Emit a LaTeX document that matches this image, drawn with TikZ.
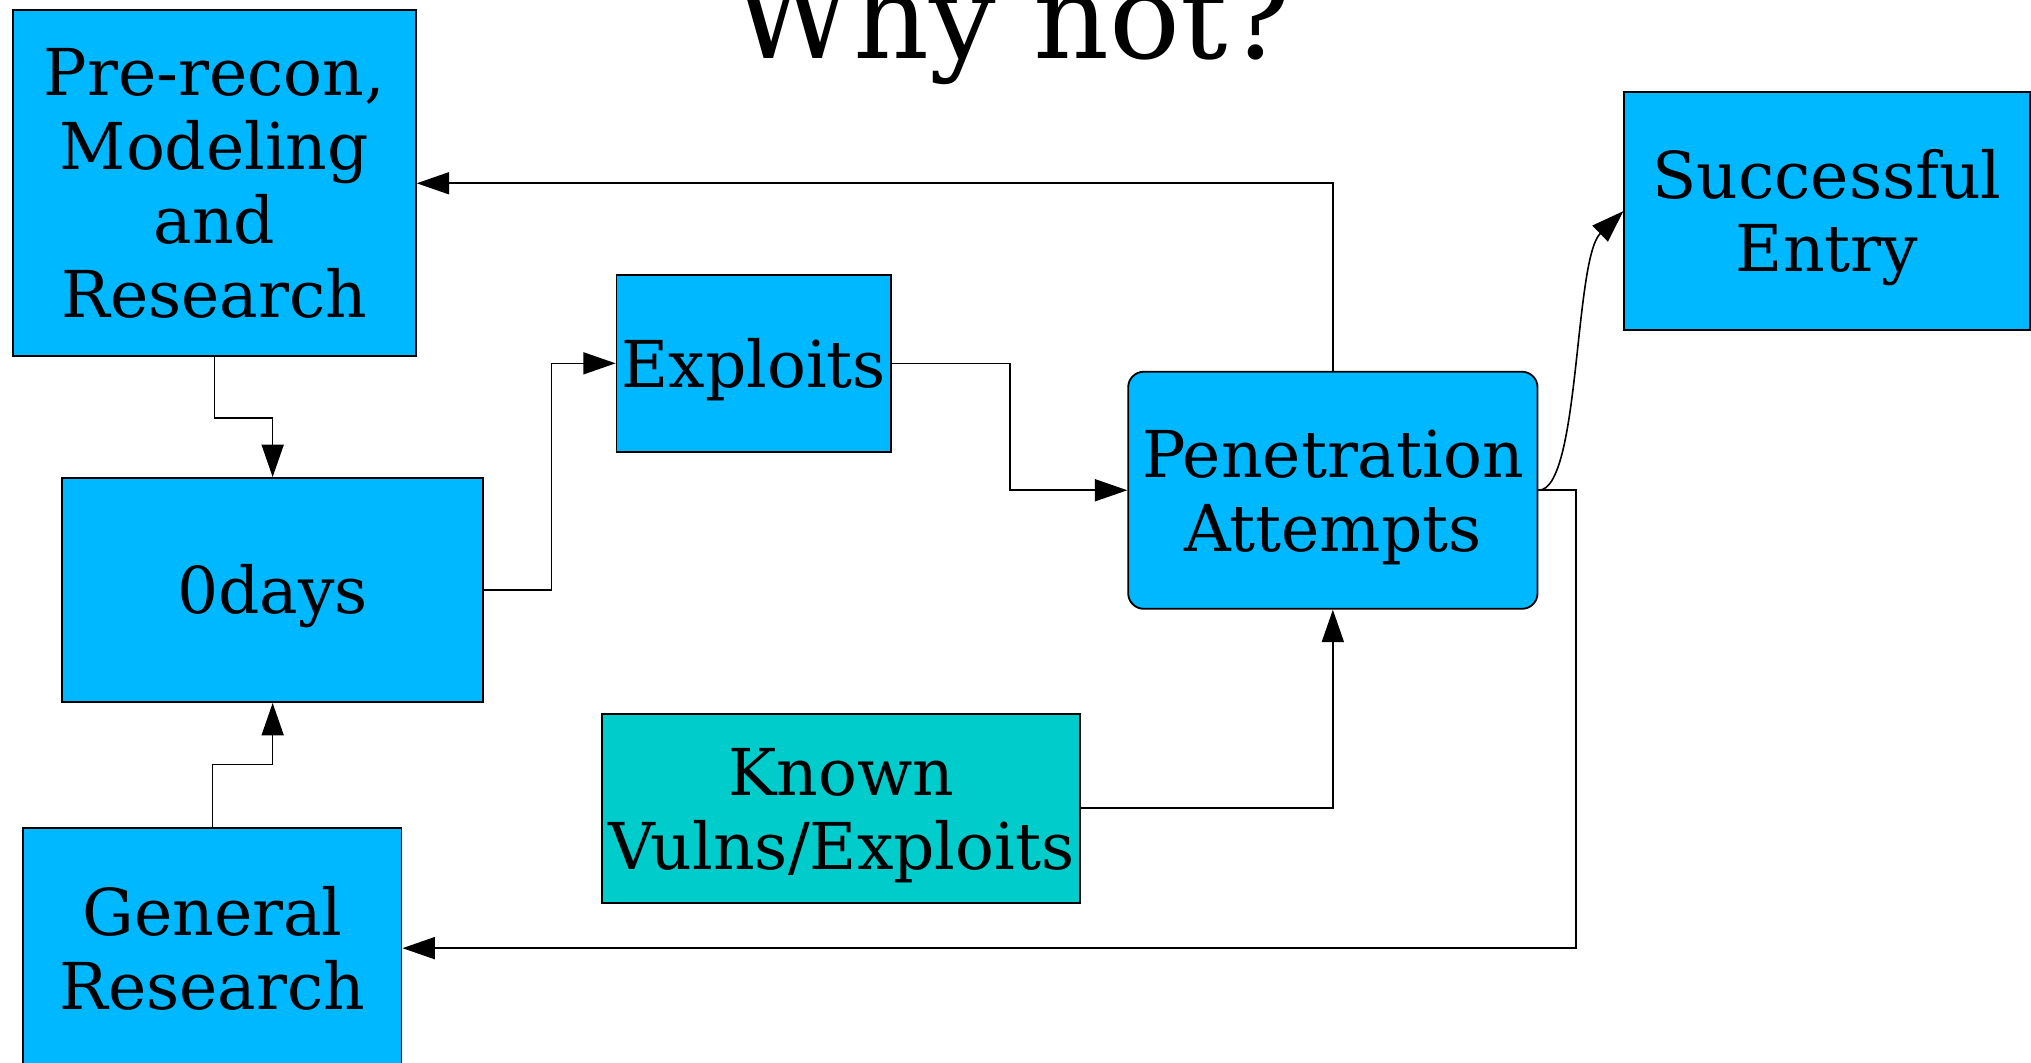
\documentclass[tikz,border=0pt]{standalone}
\usepackage{fontspec}
\setmainfont{DejaVu Serif}
\usepackage{tikz}
\usetikzlibrary{arrows.meta, positioning, calc}
\definecolor{skyblue}{HTML}{00B8FF}
\definecolor{tealbox}{HTML}{00CCCC}

\begin{document}
\begin{tikzpicture}[
  box/.style={draw=black, line width=0.4pt, fill=skyblue, align=center, inner sep=0pt,
    font=\fontsize{14.2}{16.2}\selectfont, execute at begin node={\rule{0pt}{13.4pt}}},
  lowtext/.style={execute at begin node={\rule{0pt}{29.8pt}}},
  link/.style={line width=0.35pt, -{Triangle[length=2.5mm, width=1.7mm]}}
]
\useasboundingbox (0,0) rectangle (15.68,-8.206);

\node [anchor=base, font=\fontsize{25.9}{30}\selectfont] (title) at (7.81,-0.45) {Why not?};

\node [box, minimum width=3.11cm, minimum height=2.67cm] (prerecon) at (1.655,-1.415) {Pre-recon,\\Modeling\\and\\Research};
\node [box, minimum width=2.12cm, minimum height=1.37cm] (exploits) at (5.82,-2.805) {Exploits};
\node [box, minimum width=3.25cm, minimum height=1.73cm] (zerodays) at (2.105,-4.555) {0days};
\node [box, lowtext, rounded corners=0.12cm, minimum width=3.16cm, minimum height=1.83cm] (pen) at (10.29,-3.785) {Penetration\\Attempts};
\node [box, lowtext, minimum width=3.13cm, minimum height=1.84cm] (success) at (14.105,-1.63) {Successful\\Entry};
\node [box, lowtext, fill=tealbox, minimum width=3.69cm, minimum height=1.46cm] (known) at (6.495,-6.24) {Known\\Vulns/Exploits};
\node [box, minimum width=2.92cm, minimum height=1.86cm] (general) at (1.64,-7.32) {General\\Research};

\draw [link] (pen.north) |- (prerecon.east);
\draw [link] (prerecon.south) -- ++(0,-0.47) -| (zerodays.north);
\draw [link] (zerodays.east) -- ++(0.52,0) |- (exploits.west);
\draw [link] (exploits.east) -- ++(0.91,0) |- (pen.west);
\draw [link] (pen.east) .. controls (12.2,-3.785) and (12.15,-2.0) .. (success.west);
\draw [link] (pen.east) -- ++(0.29,0) |- (general.east);
\draw [link] (known.east) -| (pen.south);
\draw [link] (general.north) -- ++(0,0.48) -| (zerodays.south);
\end{tikzpicture}
\end{document}
